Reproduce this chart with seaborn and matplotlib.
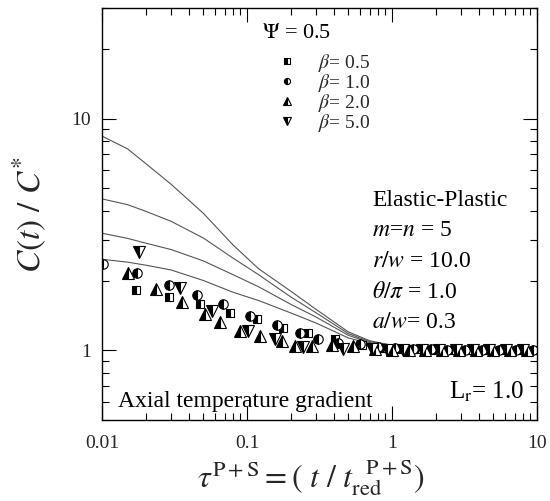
import numpy as np
import pandas as pd
import matplotlib
matplotlib.use("Agg")
import matplotlib.pyplot as plt
import seaborn as sns
from matplotlib.ticker import LogLocator, NullFormatter, FixedLocator, FixedFormatter

sns.set_theme(style="ticks")
plt.rcParams["font.family"] = ["Liberation Serif", "DejaVu Serif"]
plt.rcParams["mathtext.fontset"] = "stix"

# ---- data ----
curve_x = [0.01, 0.015, 0.02, 0.03, 0.05, 0.08, 0.12, 0.2, 0.3, 0.5, 0.7, 1.0, 2.0, 5.0, 10.0]
curve_1 = [8.4, 7.4, 6.4, 5.2, 3.9, 2.85, 2.25, 1.80, 1.50, 1.20, 1.10, 1.05, 1.03, 1.03, 1.03]
curve_2 = [4.5, 4.25, 3.98, 3.6, 3.05, 2.5, 2.12, 1.70, 1.45, 1.18, 1.09, 1.05, 1.03, 1.03, 1.03]
curve_3 = [3.2, 3.04, 2.9, 2.72, 2.43, 2.12, 1.88, 1.58, 1.39, 1.16, 1.08, 1.04, 1.03, 1.03, 1.03]
curve_4 = [2.47, 2.40, 2.33, 2.22, 2.0, 1.78, 1.64, 1.45, 1.31, 1.13, 1.07, 1.04, 1.03, 1.03, 1.03]
curves = [curve_1, curve_2, curve_3, curve_4]

b05_x = [0.0171, 0.0291, 0.0474, 0.0764, 0.117, 0.178, 0.265, 0.405, 0.62, 0.86, 1.15, 1.5, 2.0, 2.6, 3.4, 4.5, 5.9, 7.7, 9.9]
b05_y = [1.82, 1.69, 1.58, 1.45, 1.36, 1.25, 1.19, 1.12, 1.05, 1.02, 1.01, 1.01, 1.0, 1.0, 1.0, 1.0, 1.0, 1.0, 1.0]
b10_x = [0.0101, 0.0175, 0.0290, 0.0450, 0.0687, 0.105, 0.160, 0.232, 0.310, 0.427, 0.60, 0.80, 1.05, 1.4, 1.85, 2.4, 3.2, 4.2, 5.5, 7.2, 9.4]
b10_y = [2.35, 2.16, 1.92, 1.74, 1.58, 1.41, 1.29, 1.19, 1.12, 1.08, 1.06, 1.03, 1.02, 1.01, 1.01, 1.0, 1.0, 1.0, 1.0, 1.0, 1.0]
b20_x = [0.0150, 0.0236, 0.0354, 0.0513, 0.0652, 0.0896, 0.123, 0.173, 0.214, 0.279, 0.384, 0.539, 0.76, 1.0, 1.3, 1.7, 2.2, 2.9, 3.8, 5.0, 6.5, 8.5]
b20_y = [2.16, 1.83, 1.61, 1.43, 1.32, 1.21, 1.15, 1.10, 1.04, 1.04, 1.05, 1.04, 1.01, 1.0, 1.0, 1.0, 1.0, 1.0, 1.0, 1.0, 1.0, 1.0]
b50_x = [0.0181, 0.0345, 0.0571, 0.102, 0.156, 0.244, 0.461, 0.724, 0.92, 1.2, 1.6, 2.1, 2.75, 3.6, 4.7, 6.1, 8.0]
b50_y = [2.66, 1.86, 1.48, 1.21, 1.12, 1.03, 1.01, 1.01, 1.0, 1.0, 1.0, 1.0, 1.0, 1.0, 1.0, 1.0, 1.0]

series_x = [b05_x, b10_x, b20_x, b50_x]
series_y = [b05_y, b10_y, b20_y, b50_y]
series_labels = [r"$\beta$= 0.5", r"$\beta$= 1.0", r"$\beta$= 2.0", r"$\beta$= 5.0"]
series_markers = ["s", "o", "^", "v"]
series_msize = [6.2, 6.8, 8.0, 8.0]

x_ticks = [0.01, 0.1, 1, 10]
x_ticklabels = ["0.01", "0.1", "1", "10"]
y_ticks = [1, 10]
y_ticklabels = ["1", "10"]

# ---- figure ----
W, H = 550, 501
fig = plt.figure(figsize=(W / 100, H / 100), dpi=100)
ax = fig.add_axes([102 / W, 1 - 420 / H, (537 - 102) / W, (420 - 8) / H])
ax.set_xscale("log")
ax.set_yscale("log")

for c in curves:
    sns.lineplot(x=curve_x, y=c, ax=ax, color="#555555", linewidth=0.8,
                 estimator=None, sort=False)

handles = []
for xs, ys, lab, mk, ms in zip(series_x, series_y, series_labels, series_markers, series_msize):
    n_before = len(ax.lines)
    sns.lineplot(x=xs, y=ys, ax=ax, estimator=None, sort=False,
                 marker=mk, linestyle="", color="black", markersize=ms,
                 fillstyle="left", markerfacecolor="black",
                 markerfacecoloralt="white", markeredgecolor="black",
                 markeredgewidth=0.8, label=lab)
    handles.append(ax.lines[n_before])

ax.set_xlim(0.01, 10)
ax.set_ylim(0.5, 30)

ax.xaxis.set_major_locator(FixedLocator(x_ticks))
ax.xaxis.set_major_formatter(FixedFormatter(x_ticklabels))
ax.xaxis.set_minor_locator(LogLocator(base=10, subs=np.arange(2, 10)))
ax.xaxis.set_minor_formatter(NullFormatter())
ax.yaxis.set_major_locator(FixedLocator(y_ticks))
ax.yaxis.set_major_formatter(FixedFormatter(y_ticklabels))
ax.yaxis.set_minor_locator(LogLocator(base=10, subs=np.arange(2, 10)))
ax.yaxis.set_minor_formatter(NullFormatter())

ax.tick_params(which="both", direction="in", top=True, right=True, color="black", width=0.8)
ax.tick_params(which="major", length=10, labelsize=14)
ax.tick_params(axis="x", which="major", pad=11)
ax.tick_params(axis="y", which="major", pad=8)
ax.tick_params(which="minor", length=5)
for s in ax.spines.values():
    s.set_color("black")
    s.set_linewidth(1.0)

ax.set_xlabel(r"$\tau^{\mathrm{P+S}} = (\ t\ /\ t_{\mathrm{red}}^{\ \ \mathrm{P+S}})$", fontsize=23)
ax.xaxis.set_label_coords((311 - 102) / 435, 1 - (457 - 8) / 412)
ax.set_ylabel(r"$C(t)\ /\ C^{*}$", fontsize=24, labelpad=16)

leg = ax.legend(handles=handles, labels=series_labels, loc="upper left",
                bbox_to_anchor=((277 - 102) / 435, 1 - (52 - 8) / 412),
                frameon=False, fontsize=14, markerscale=0.65,
                handlelength=1.0, handletextpad=1.1, labelspacing=-0.1,
                borderpad=0.0, borderaxespad=0.0)

tkw = dict(transform=ax.transAxes, fontsize=17, color="black")
ax.text((262 - 102) / 435, 1 - (33 - 8) / 412, r"$\Psi$ = 0.5", va="center", ha="left",
        transform=ax.transAxes, fontsize=16, color="black")
xl = (372 - 102) / 435
ax.text(xl, 1 - (200 - 8) / 412, "Elastic-Plastic", va="center", ha="left", **tkw)
ax.text(xl, 1 - (231 - 8) / 412, r"$m$=$n$ = 5", va="center", ha="left", **tkw)
ax.text(xl, 1 - (262 - 8) / 412, r"$r/w$ = 10.0", va="center", ha="left", **tkw)
ax.text(xl, 1 - (293 - 8) / 412, r"$\theta/\pi$ = 1.0", va="center", ha="left", **tkw)
ax.text(xl, 1 - (323 - 8) / 412, r"$a/w$= 0.3", va="center", ha="left", **tkw)
ax.text((118 - 102) / 435, 1 - (402 - 8) / 412, "Axial temperature gradient", va="center", ha="left", **tkw)
ax.text((524 - 102) / 435, 1 - (392 - 8) / 412, r"L$_{\mathrm{r}}$= 1.0", va="center", ha="right",
        transform=ax.transAxes, fontsize=18, color="black")

fig.savefig("out.png", dpi=100)
